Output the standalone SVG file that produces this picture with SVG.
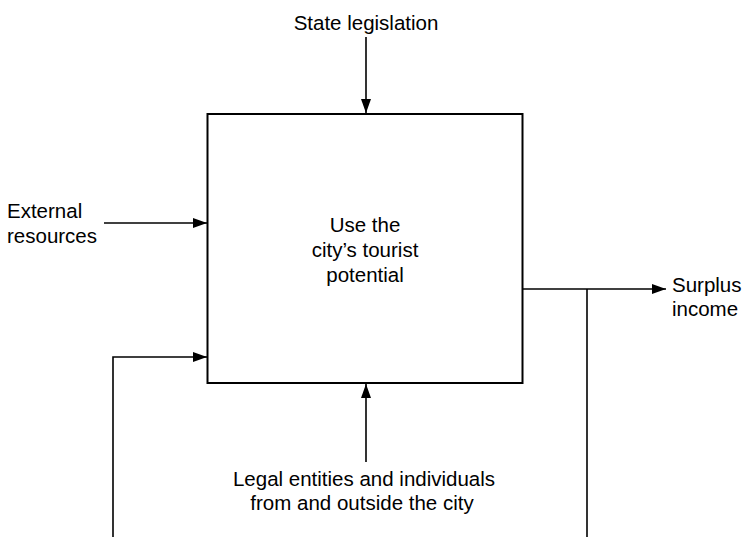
<svg xmlns="http://www.w3.org/2000/svg" width="743" height="537" viewBox="0 0 743 537">
  <defs>
    <marker id="arrow" markerWidth="14" markerHeight="10" refX="14" refY="5" orient="auto" markerUnits="userSpaceOnUse">
      <path d="M0,0 L14,5 L0,10 Z" fill="#000"/>
    </marker>
    <style>
      text { font-family: "Liberation Sans", Arial, Helvetica, sans-serif; font-size: 20.5px; fill: #000; }
      .mid { text-anchor: middle; }
      .box { fill: #fff; stroke: #000; stroke-width: 2; }
      .line { fill: none; stroke: #000; stroke-width: 1.6; }
    </style>
  </defs>
  <rect width="743" height="537" fill="#fff"/>

  <!-- activity box -->
  <g id="activity">
    <rect class="box" x="207.5" y="114" width="315" height="269"/>
    <text class="mid" x="365" y="232">Use the</text>
    <text class="mid" x="365" y="257">city’s tourist</text>
    <text class="mid" x="365" y="282">potential</text>
  </g>

  <!-- labels -->
  <g id="control">
    <text class="mid" x="366" y="30">State legislation</text>
  </g>
  <g id="input">
    <text x="7" y="218">External</text>
    <text x="7" y="243">resources</text>
  </g>
  <g id="output">
    <text x="672" y="292">Surplus</text>
    <text x="672" y="316">income</text>
  </g>
  <g id="mechanism">
    <text class="mid" x="364" y="486">Legal entities and individuals</text>
    <text class="mid" x="362" y="510">from and outside the city</text>
  </g>

  <!-- connectors -->
  <g id="connectors">
    <line class="line" x1="366" y1="37" x2="366" y2="113" marker-end="url(#arrow)"/>
    <line class="line" x1="104" y1="223" x2="207" y2="223" marker-end="url(#arrow)"/>
    <line class="line" x1="522" y1="289" x2="666" y2="289" marker-end="url(#arrow)"/>
    <line class="line" x1="587" y1="289" x2="587" y2="537"/>
    <polyline class="line" points="113,537 113,357 207,357" marker-end="url(#arrow)"/>
    <line class="line" x1="366" y1="462" x2="366" y2="384" marker-end="url(#arrow)"/>
  </g>
</svg>
